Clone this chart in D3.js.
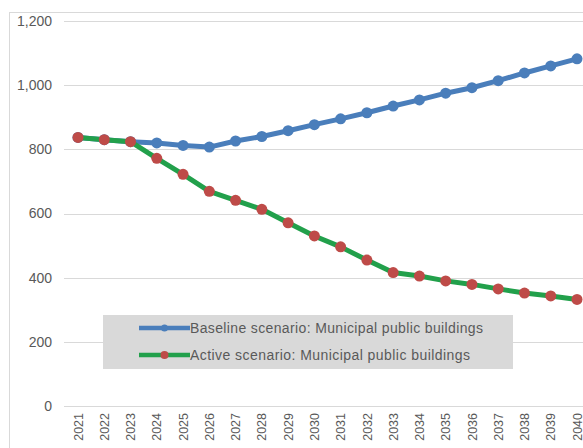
<!DOCTYPE html>
<html>
<head>
<meta charset="utf-8">
<script src="https://cdn.jsdelivr.net/npm/d3@7"></script>
<style>
  html, body { margin: 0; padding: 0; background: #fff; }
  svg { display: block; font-family: "Liberation Sans", Arial, sans-serif; }
</style>
</head>
<body>
<svg id="chart" width="583" height="448"></svg>
<script>
// Years on the category axis
const years = [2021, 2022, 2023, 2024, 2025, 2026, 2027, 2028, 2029, 2030,
               2031, 2032, 2033, 2034, 2035, 2036, 2037, 2038, 2039, 2040];

// Energy use of municipal public buildings, per scenario
const baseline = [837, 830, 824, 820, 812, 807, 826, 840, 858, 877,
                  895, 914, 935, 954, 975, 992, 1014, 1038, 1060, 1082];
const active = [837, 830, 824, 772, 722, 669, 641, 613, 571, 530,
                496, 455, 416, 405, 390, 379, 365, 352, 343, 332];

const yTicks = [0, 200, 400, 600, 800, 1000, 1200];

const seriesNames = ["Baseline scenario: Municipal public buildings",
                     "Active scenario: Municipal public buildings"];

const svg = d3.select("#chart");
const W = 583, H = 448;

// Outer chart frame
svg.append("rect")
  .attr("x", 9.5).attr("y", 12.5)
  .attr("width", W + 20).attr("height", H + 20)
  .attr("fill", "#fff").attr("stroke", "#d9d9d9").attr("stroke-width", 1);

const x = d3.scaleLinear().domain([2021, 2040]).range([78, 577]);
const y = d3.scaleLinear().domain([0, 1200]).range([406, 21]);

// Horizontal gridlines
svg.append("g")
  .selectAll("line")
  .data(yTicks)
  .join("line")
  .attr("x1", 64).attr("x2", W)
  .attr("y1", d => Math.round(y(d)) + 0.5)
  .attr("y2", d => Math.round(y(d)) + 0.5)
  .attr("stroke", "#d9d9d9").attr("stroke-width", 1);

// Y axis labels
const yAxis = d3.axisLeft(y).tickValues(yTicks).tickFormat(d3.format(",")).tickSize(0).tickPadding(0);
svg.append("g")
  .attr("transform", "translate(52,0)")
  .call(yAxis)
  .call(g => g.select(".domain").remove())
  .call(g => g.selectAll("text")
    .attr("fill", "#595959")
    .attr("font-size", 14)
    .attr("font-family", "Liberation Sans, Arial, sans-serif"));

// X axis labels, rotated
const xAxis = d3.axisBottom(x).tickValues(years).tickFormat(d3.format("d")).tickSize(0);
svg.append("g")
  .attr("transform", "translate(0,406)")
  .call(xAxis)
  .call(g => g.select(".domain").remove())
  .call(g => g.selectAll("text")
    .attr("fill", "#595959")
    .attr("font-size", 12.5)
    .attr("font-family", "Liberation Sans, Arial, sans-serif")
    .attr("transform", "rotate(-90)")
    .attr("text-anchor", "end")
    .attr("dy", "0.33em")
    .attr("x", -7)
    .attr("y", 0));

const line = d3.line().x((d, i) => x(years[i])).y(d => y(d));

const series = [
  { name: seriesNames[0], values: baseline, stroke: "#4a7ebb", marker: "#4a7ebb", textLen: 293 },
  { name: seriesNames[1], values: active, stroke: "#22a04b", marker: "#be4b48", textLen: 280 }
];

series.forEach(s => {
  const g = svg.append("g");
  g.append("path")
    .datum(s.values)
    .attr("d", line)
    .attr("fill", "none")
    .attr("stroke", s.stroke)
    .attr("stroke-width", 5)
    .attr("stroke-linejoin", "round");
  g.selectAll("circle")
    .data(s.values)
    .join("circle")
    .attr("cx", (d, i) => x(years[i]))
    .attr("cy", d => y(d))
    .attr("r", 5.5)
    .attr("fill", s.marker);
});

// Legend
const legend = svg.append("g");
legend.append("rect")
  .attr("x", 103).attr("y", 315).attr("width", 410).attr("height", 54)
  .attr("fill", "#d9d9d9");

const rows = [328, 355];
series.forEach((s, i) => {
  const ry = rows[i];
  legend.append("line")
    .attr("x1", 139).attr("x2", 190)
    .attr("y1", ry).attr("y2", ry)
    .attr("stroke", s.stroke).attr("stroke-width", 4.5);
  legend.append("circle")
    .attr("cx", 164.5).attr("cy", ry).attr("r", i === 0 ? 3.5 : 4)
    .attr("fill", s.marker);
  legend.append("text")
    .attr("x", 190).attr("y", ry)
    .attr("dy", "0.35em")
    .attr("font-size", 14)
    .attr("fill", "#595959")
    .attr("textLength", s.textLen)
    .attr("lengthAdjust", "spacing")
    .text(s.name);
});
</script>
</body>
</html>
